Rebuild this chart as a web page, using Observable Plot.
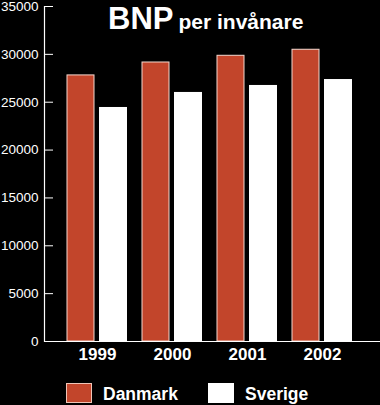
<!DOCTYPE html>
<html>
<head>
<meta charset="utf-8">
<script src="https://cdn.jsdelivr.net/npm/d3@7"></script>
<script src="https://cdn.jsdelivr.net/npm/@observablehq/plot@0.6"></script>
<style>
  html, body { margin: 0; padding: 0; background: #000; }
  #wrap { position: relative; width: 380px; height: 405px; background: #000; color: #fff;
          font-family: "Liberation Sans", Arial, Helvetica, sans-serif; overflow: hidden; }
  #chart svg { display: block; }
  .title { position: absolute; left: 108px; top: 4px; line-height: 30px; font-weight: bold; white-space: nowrap; }
  .title .big { font-size: 31px; }
  .title .small { font-size: 21px; margin-left: 5px; }
  .sw { position: absolute; width: 24px; height: 18px; }
  .lab { position: absolute; font-weight: bold; font-size: 17.5px; line-height: 20px; white-space: nowrap; }
</style>
</head>
<body>
<div id="wrap">
  <div id="chart"></div>
  <div class="title"><span class="big">BNP</span><span class="small">per invånare</span></div>
  <div id="legend"></div>
</div>
<script>
const years = ["1999", "2000", "2001", "2002"];
const danmark = [27800, 29150, 29850, 30480];
const sverige = [24450, 26020, 26750, 27370];
const yTicks = [0, 5000, 10000, 15000, 20000, 25000, 30000, 35000];
const seriesNames = ["Danmark", "Sverige"];
const colors = ["#c2452b", "#ffffff"];

const dk = years.map((y, i) => ({year: y, value: danmark[i]}));
const se = years.map((y, i) => ({year: y, value: sverige[i]}));

const chart = Plot.plot({
  width: 380,
  height: 375,
  marginTop: 6,
  marginBottom: 34,
  marginLeft: 44,
  marginRight: 0,
  style: {background: "#000", color: "#fff", fontFamily: "'Liberation Sans', Arial, sans-serif"},
  x: {type: "band", domain: years, paddingInner: 0.2, paddingOuter: 0.34, align: 0.46, label: null},
  y: {domain: [0, 35000], label: null},
  marks: [
    Plot.barY(dk, {x: "year", y: "value", fill: colors[0], stroke: "#f4d8cf", strokeWidth: 1, insetRight: 33}),
    Plot.barY(se, {x: "year", y: "value", fill: colors[1], insetLeft: 32}),
    Plot.frame({anchor: "left", stroke: "#fff", strokeWidth: 1.2}),
    Plot.ruleY([0], {stroke: "#fff", strokeWidth: 1.2}),
    Plot.axisY(yTicks, {tickSize: -9, tickPadding: 15, tickFormat: d3.format("d"), fontSize: 13.5, stroke: "#fff", fill: "#fff", label: null}),
    Plot.axisX({tickSize: 0, tickPadding: 6, fontSize: 17, fontWeight: "bold", fill: "#fff", label: null})
  ]
});
document.getElementById("chart").appendChild(chart);

const legend = document.getElementById("legend");
const swLeft = [66, 208];
const labLeft = [103, 245];
seriesNames.forEach((name, i) => {
  const sw = document.createElement("div");
  sw.className = "sw";
  sw.style.left = swLeft[i] + "px";
  sw.style.top = "383px";
  sw.style.background = colors[i];
  sw.style.border = i === 0 ? "1px solid #f0c4b6" : "1px solid #fff";
  legend.appendChild(sw);
  const lab = document.createElement("div");
  lab.className = "lab";
  lab.style.left = labLeft[i] + "px";
  lab.style.top = "384px";
  lab.textContent = name;
  legend.appendChild(lab);
});
</script>
</body>
</html>
